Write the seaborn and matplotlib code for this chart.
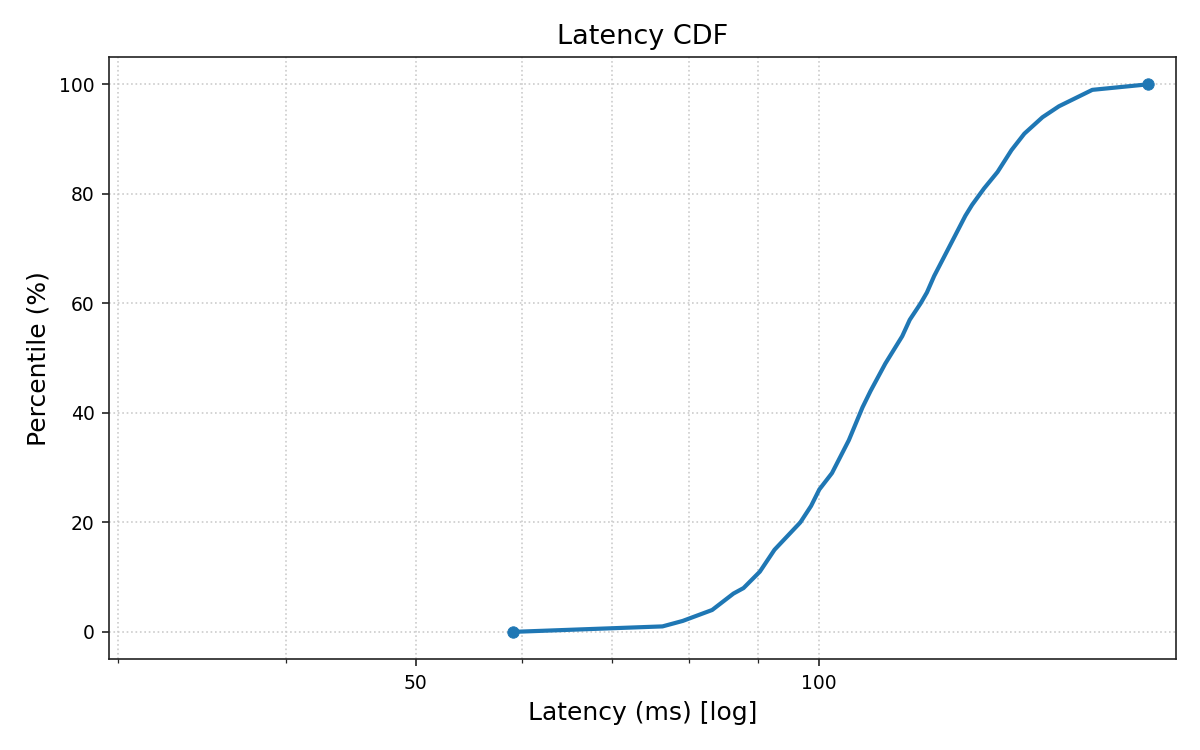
import numpy as np
import pandas as pd
import seaborn as sns
import matplotlib.pyplot as plt
from matplotlib.ticker import ScalarFormatter, NullFormatter

# percentile levels and the latency (ms) read at each one
percentiles = [0, 1, 2, 4, 7, 8, 11, 15, 20, 23, 26, 29, 35, 41, 44, 49, 54, 57,
               60, 62, 65, 69, 76, 78, 81, 84, 88, 91, 94, 96, 99, 100]
latency_ms = [59.1, 76.4, 79.1, 83.2, 86.3, 87.8, 90.3, 92.6, 96.8, 98.6, 100.0,
              102.2, 105.2, 107.7, 109.2, 112.0, 115.3, 116.8, 119.0, 120.3, 121.8,
              124.2, 128.5, 130.0, 132.7, 135.8, 139.1, 142.2, 146.7, 150.9, 159.8,
              175.7]
x_ticks = [50, 100]
y_ticks = [0, 20, 40, 60, 80, 100]

df = pd.DataFrame({"latency": latency_ms, "pct": percentiles})
ends = df.iloc[[0, -1]]

sns.set_style("ticks")
plt.rcParams["font.family"] = ["DejaVu Sans"]

fig, ax = plt.subplots(figsize=(8, 5), dpi=150)
line_color = "#1f77b4"
sns.lineplot(data=df, x="latency", y="pct", ax=ax, color=line_color, linewidth=2)
sns.scatterplot(data=ends, x="latency", y="pct", ax=ax, color=line_color, s=30,
                edgecolor=line_color, zorder=3)

ax.set_xscale("log")
ax.set_xlim(min(latency_ms) / 2, max(latency_ms) * 1.05)
ax.set_ylim(-5, 105)
ax.set_xticks(x_ticks)
ax.xaxis.set_major_formatter(ScalarFormatter())
ax.xaxis.set_minor_formatter(NullFormatter())
ax.set_yticks(y_ticks)

ax.grid(True, which="both", linestyle=":", color="#cccccc", linewidth=0.8)
for s in ax.spines.values():
    s.set_visible(True)
    s.set_color("#222222")

ax.tick_params(axis="both", which="major", labelsize=9, colors="#222222", labelcolor="black")
ax.set_title("Latency CDF", fontsize=13, color="black")
ax.set_xlabel("Latency (ms) [log]", fontsize=12, color="black")
ax.set_ylabel("Percentile (%)", fontsize=12, color="black")

fig.subplots_adjust(left=0.091, right=0.98, top=0.924, bottom=0.121)
fig.savefig("out.png", dpi=150)
